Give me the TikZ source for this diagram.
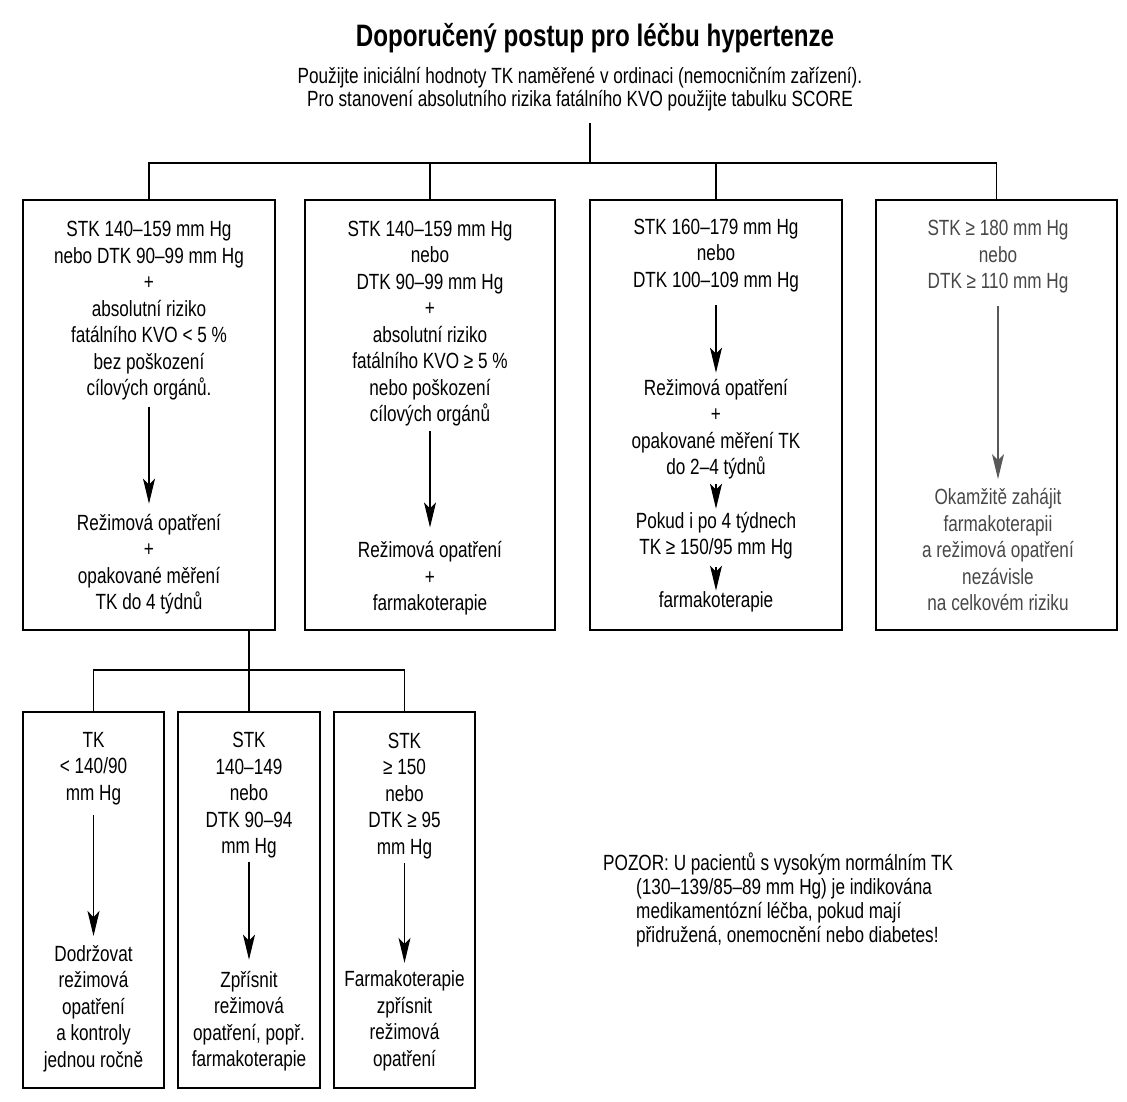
\documentclass[tikz,border=0pt]{standalone}
\usepackage{fontspec}
\setmainfont{Liberation Sans}[FakeStretch=0.78]
\usetikzlibrary{arrows.meta}

\begin{document}
\begin{tikzpicture}[x=1pt, y=-1pt,
  box/.style={draw, line width=1.3pt, minimum height=430pt, inner sep=0pt},
  lowbox/.style={draw, line width=1.3pt, minimum width=141pt, minimum height=376pt, inner sep=0pt},
  txt/.style={align=center, inner sep=0pt, font=\fontsize{22}{26.5}\selectfont},
  link/.style={line width=1.1pt},
  arr/.style={line width=1.1pt, -{Stealth[length=25pt, width=12pt, inset=6pt]}},
  faded/.style={text=black!72}]
\useasboundingbox (0,0) rectangle (1127,1101);

% Title and instructions
\node[font=\fontsize{31}{36}\selectfont\bfseries] (title) at (595,38) {Doporučený postup pro léčbu hypertenze};
\node[txt, font=\fontsize{22}{23}\selectfont] (intro) at (580,89)
  {Použijte iniciální hodnoty TK naměřené v ordinaci (nemocničním zařízení).\\
   Pro stanovení absolutního rizika fatálního KVO použijte tabulku SCORE};

\coordinate (root) at (590,123);
\coordinate (split) at (590,163);

% Four risk groups
\node[box, minimum width=252pt] (b1) at (149,415) {};
\node[box, minimum width=250pt] (b2) at (430,415) {};
\node[box, minimum width=252pt] (b3) at (716,415) {};
\node[box, minimum width=241pt] (b4) at (996.5,415) {};

\draw[link] (root) -- (split);
\draw[link] (b1.north) -- (b1.north |- split) -- (b4.north |- split) -- (b4.north);
\draw[link] (b2.north) -- (b2.north |- split);
\draw[link] (b3.north) -- (b3.north |- split);

% Group 1
\node[txt] (b1top) at (149,311) {STK 140–159 mm Hg\\nebo DTK 90–99 mm Hg\\+\\absolutní riziko\\fatálního KVO < 5 \%\\bez poškození\\cílových orgánů.};
\node[txt] (b1bot) at (149,564) {Režimová opatření\\+\\opakované měření\\TK do 4 týdnů};
\draw[arr, shorten <=6pt, shorten >=10pt] (b1top.south) -- (b1bot.north);

% Group 2
\node[txt] (b2top) at (430,323.5) {STK 140–159 mm Hg\\nebo\\DTK 90–99 mm Hg\\+\\absolutní riziko\\fatálního KVO ≥ 5 \%\\nebo poškození\\cílových orgánů};
\node[txt] (b2bot) at (430,578.5) {Režimová opatření\\+\\farmakoterapie};
\draw[arr, shorten <=5pt, shorten >=14pt] (b2top.south) -- (b2bot.north);

% Group 3
\node[txt] (b3a) at (716,255.5) {STK 160–179 mm Hg\\nebo\\DTK 100–109 mm Hg};
\node[txt] (b3b) at (716,429) {Režimová opatření\\+\\opakované měření TK\\do 2–4 týdnů};
\node[txt] (b3c) at (716,535.5) {Pokud i po 4 týdnech\\TK ≥ 150/95 mm Hg};
\node[txt] (b3d) at (716,602) {farmakoterapie};
\draw[arr, shorten <=13pt, shorten >=6pt] (b3a.south) -- (b3b.north);
\draw[arr, shorten <=5pt, shorten >=3pt] (b3b.south) -- (b3c.north);
\draw[arr, shorten <=8pt, shorten >=1pt] (b3c.south) -- (b3d.north);

% Group 4
\node[txt, faded] (b4a) at (998,257) {STK ≥ 180 mm Hg\\nebo\\DTK ≥ 110 mm Hg};
\node[txt, faded] (b4b) at (998,549.5) {Okamžitě zahájit\\farmakoterapii\\a režimová opatření\\nezávisle\\na celkovém riziku};
\draw[arr, draw=black!65, shorten <=12pt, shorten >=9pt] (b4a.south) -- (b4b.north);

% Follow-up of group 1
\coordinate (split2) at (249,670);
\node[lowbox] (ba) at (93.5,900) {};
\node[lowbox, minimum width=142pt] (bb) at (249,900) {};
\node[lowbox] (bc) at (404.5,900) {};

\draw[link] (b1.south -| bb.north) -- (bb.north);
\draw[link] (ba.north) -- (ba.north |- split2) -- (bc.north |- split2) -- (bc.north);

\node[txt] (batop) at (93.5,768.5) {TK\\< 140/90\\mm Hg};
\node[txt] (babot) at (93.5,1008.5) {Dodržovat\\režimová\\opatření\\a kontroly\\jednou ročně};
\draw[arr, shorten <=10pt, shorten >=9pt] (batop.south) -- (babot.north);

\node[txt] (bbtop) at (249,795.5) {STK\\140–149\\nebo\\DTK 90–94\\mm Hg};
\node[txt] (bbbot) at (249,1021) {Zpřísnit\\režimová\\opatření, popř.\\farmakoterapie};
\draw[arr, shorten <=3pt, shorten >=11pt] (bbtop.south) -- (bbbot.north);

\node[txt] (bctop) at (404.5,796) {STK\\≥ 150\\nebo\\DTK ≥ 95\\mm Hg};
\node[txt] (bcbot) at (404.5,1021) {Farmakoterapie\\zpřísnit\\režimová\\opatření};
\draw[arr, shorten <=4pt, shorten >=8pt] (bctop.south) -- (bcbot.north);

% Note
\node[txt, align=left, anchor=west, font=\fontsize{22}{24}\selectfont] (note) at (603,900)
  {POZOR: U pacientů s vysokým normálním TK\\
   \hspace*{33pt}(130–139/85–89 mm Hg) je indikována\\
   \hspace*{33pt}medikamentózní léčba, pokud mají\\
   \hspace*{33pt}přidružená, onemocnění nebo diabetes!};
\end{tikzpicture}
\end{document}
